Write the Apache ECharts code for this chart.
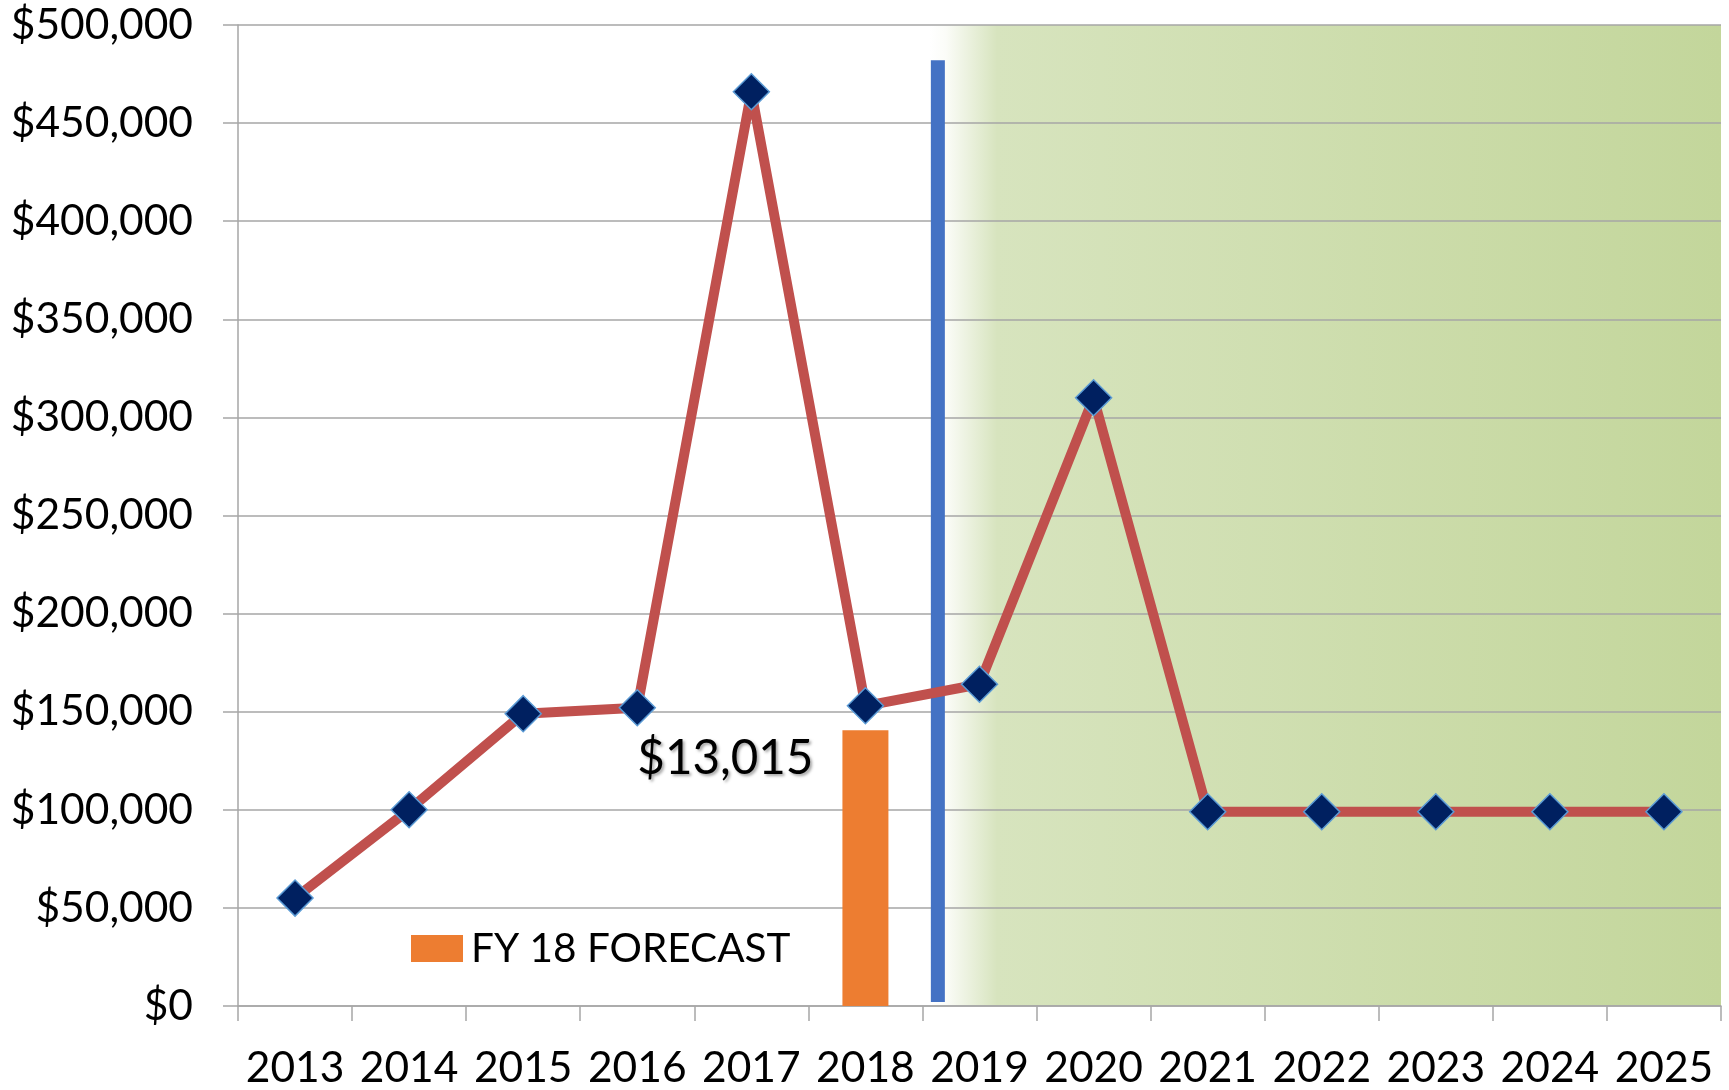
<!DOCTYPE html>
<html>
<head>
<meta charset="utf-8">
<style>
  html, body { margin: 0; padding: 0; background: #fff; }
  #chart { width: 1729px; height: 1090px; }
</style>
<script src="https://cdn.jsdelivr.net/npm/echarts@6/dist/echarts.min.js"></script>
</head>
<body>
<div id="chart"></div>
<script>
// ---- data ----
const years = ['2013','2014','2015','2016','2017','2018','2019','2020','2021','2022','2023','2024','2025'];
const spending = [55000, 100000, 149000, 152000, 466000, 153000, 164000, 310000, 99000, 99000, 99000, 99000, 99000];
const forecastName = 'FY 18 FORECAST';
const forecast = [null, null, null, null, null, 140500, null, null, null, null, null, null, null];
const forecastLabel = '$13,015';
const yTicks = { min: 0, max: 500000, interval: 50000 };
// divider line and shaded future region, in category units along the axis (0..13)
const dividerX = 6.135;
const dividerRange = [2000, 482000];
const shadeRange = [6.065, 13];
const shadeTop = 500000;

const FONT = 'Lato';
const chart = echarts.init(document.getElementById('chart'), null, { renderer: 'canvas' });

const option = {
  animation: false,
  backgroundColor: '#ffffff',
  grid: { left: 238, right: 8, top: 25, bottom: 83, containLabel: false },
  legend: {
    data: [forecastName],
    left: 406,
    top: 923,
    icon: 'rect',
    itemWidth: 52,
    itemHeight: 27,
    selectedMode: false,
    textStyle: { fontFamily: FONT, fontSize: 40.5, color: '#000', padding: [0, 0, 0, 3] }
  },
  xAxis: [
    {
      type: 'category',
      data: years,
      z: 1,
      boundaryGap: true,
      axisLine: { show: true, lineStyle: { color: '#a6a6a6', width: 1.5 } },
      axisTick: { show: true, length: 15, lineStyle: { color: '#a6a6a6', width: 1.5 } },
      axisLabel: { fontFamily: FONT, fontSize: 42.5, color: '#000', margin: 41, interval: 0 },
      splitLine: { show: false }
    },
    {
      type: 'value',
      min: 0,
      max: 13,
      show: false
    }
  ],
  yAxis: {
    type: 'value',
    min: yTicks.min,
    max: yTicks.max,
    interval: yTicks.interval,
    z: 1,
    axisLine: { show: true, lineStyle: { color: '#a6a6a6', width: 1.5 } },
    axisTick: { show: true, length: 15, lineStyle: { color: '#a6a6a6', width: 1.5 } },
    axisLabel: {
      fontFamily: FONT, fontSize: 42.5, color: '#000', margin: 45,
      formatter: v => '$' + v.toLocaleString('en-US')
    },
    splitLine: { show: true, lineStyle: { color: '#a6a6a6', width: 1.5 } }
  },
  series: [
    {
      name: 'shade',
      type: 'line',
      xAxisIndex: 1,
      z: 0,
      silent: true,
      symbol: 'none',
      lineStyle: { width: 0, opacity: 0 },
      areaStyle: {
        opacity: 1,
        color: new echarts.graphic.LinearGradient(0, 0, 1, 0, [
          { offset: 0, color: '#ffffff' },
          { offset: 0.02, color: '#fbfcf8' },
          { offset: 0.085, color: '#d7e4be' },
          { offset: 1, color: '#c3d69b' }
        ])
      },
      data: [[shadeRange[0], shadeTop], [shadeRange[1], shadeTop]]
    },
    {
      name: forecastName,
      type: 'bar',
      xAxisIndex: 0,
      z: 3,
      barWidth: 46,
      itemStyle: { color: '#ed7d31' },
      label: {
        show: true,
        position: [-29, 28],
        align: 'right',
        verticalAlign: 'middle',
        formatter: () => forecastLabel,
        fontFamily: FONT,
        fontSize: 47.5,
        color: '#000',
        textShadowColor: 'rgba(0,0,0,0.35)',
        textShadowBlur: 3,
        textShadowOffsetX: 2,
        textShadowOffsetY: 2
      },
      data: forecast
    },
    {
      name: 'divider',
      type: 'line',
      xAxisIndex: 1,
      z: 4,
      silent: true,
      symbol: 'none',
      lineStyle: { color: '#4472c4', width: 14, cap: 'butt' },
      data: [[dividerX, dividerRange[0]], [dividerX, dividerRange[1]]]
    },
    {
      name: 'Spending',
      type: 'line',
      xAxisIndex: 0,
      z: 5,
      symbol: 'diamond',
      symbolSize: 36,
      lineStyle: { color: '#c0504d', width: 10 },
      itemStyle: { color: '#002060', borderColor: '#5b9bd5', borderWidth: 1.5 },
      data: spending
    }
  ]
};
chart.setOption(option);
</script>
</body>
</html>
